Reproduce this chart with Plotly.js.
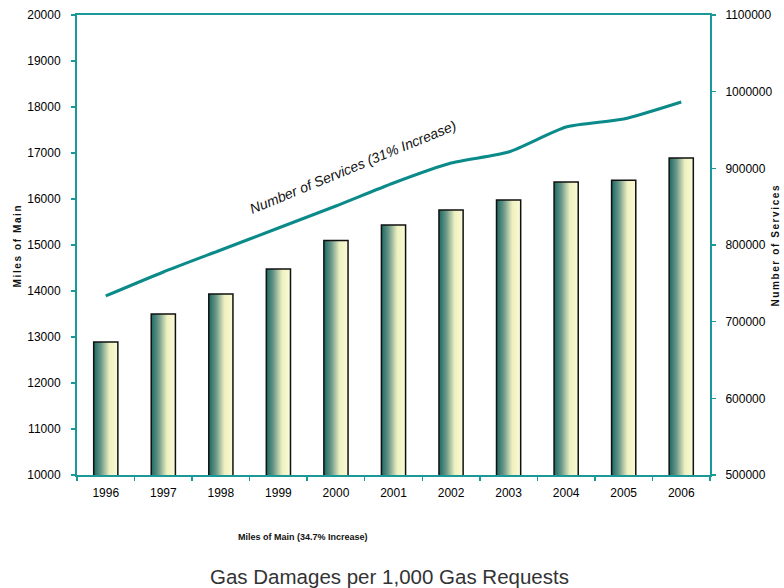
<!DOCTYPE html>
<html>
<head>
<meta charset="utf-8">
<script src="https://cdn.plot.ly/plotly-3.0.1.min.js"></script>
<style>
html,body{margin:0;padding:0;background:#fff;}
#chart{width:784px;height:588px;}
</style>
</head>
<body>
<div id="chart"></div>
<script>
const years = ["1996","1997","1998","1999","2000","2001","2002","2003","2004","2005","2006"];
const milesOfMain = [12890, 13500, 13935, 14480, 15100, 15435, 15760, 15980, 16370, 16410, 16890];
const numberOfServices = [733500, 764800, 793500, 822200, 850900, 880900, 906900, 921300, 953900, 964300, 986500];
const leftTicks = [10000,11000,12000,13000,14000,15000,16000,17000,18000,19000,20000];
const rightTicks = [500000,600000,700000,800000,900000,1000000,1100000];

const teal = "#1b9898";
const tickFont = {family: "Liberation Sans, Arial, sans-serif", size: 12, color: "#000"};

const traces = [
  {
    type: "bar",
    x: years,
    y: milesOfMain,
    width: 0.42,
    marker: {color: "#9fbfa8", line: {color: "#111", width: 1.5}},
    hoverinfo: "skip"
  },
  {
    type: "scatter",
    mode: "lines",
    x: years,
    y: numberOfServices,
    yaxis: "y2",
    line: {color: "#0b8a8a", width: 3, shape: "spline", smoothing: 0.6},
    hoverinfo: "skip"
  }
];

const layout = {
  width: 784,
  height: 588,
  margin: {l: 77, r: 74, t: 15, b: 113},
  paper_bgcolor: "#fff",
  plot_bgcolor: "#fff",
  showlegend: false,
  xaxis: {
    type: "category",
    range: [-0.5, 10.5],
    showline: true, linecolor: teal, linewidth: 2, mirror: true,
    ticks: "outside", tickson: "boundaries", ticklen: 4, tickcolor: teal, tickwidth: 1.5,
    showgrid: false, zeroline: false,
    tickfont: tickFont,
    ticklabelstandoff: 6
  },
  yaxis: {
    range: [10000, 20000],
    tickvals: leftTicks,
    tickformat: "d",
    showline: true, linecolor: teal, linewidth: 2,
    ticks: "outside", ticklen: 4, tickcolor: teal, tickwidth: 1.5,
    showgrid: false, zeroline: false,
    tickfont: tickFont,
    ticklabelstandoff: 8
  },
  yaxis2: {
    overlaying: "y",
    side: "right",
    range: [500000, 1100000],
    tickvals: rightTicks,
    tickformat: "d",
    showline: true, linecolor: teal, linewidth: 2,
    ticks: "outside", ticklen: 4, tickcolor: teal, tickwidth: 1.5,
    showgrid: false, zeroline: false,
    tickfont: tickFont,
    ticklabelstandoff: 7
  },
  annotations: [
    {
      text: "Number of Services (31% Increase)",
      xref: "paper", yref: "paper", x: 0.436, y: 0.6696,
      xanchor: "center", yanchor: "middle",
      showarrow: false, textangle: -22.5,
      font: {family: "Liberation Sans, Arial, sans-serif", size: 14, style: "italic", color: "#111"}
    },
    {
      text: "Miles of Main",
      xref: "paper", yref: "paper", x: -0.0948, y: 0.5,
      xanchor: "center", yanchor: "middle",
      showarrow: false, textangle: -90,
      font: {family: "Liberation Sans, Arial, sans-serif", size: 10, weight: "bold", color: "#111"}
    },
    {
      text: "Number of Services",
      xref: "paper", yref: "paper", x: 1.103, y: 0.5,
      xanchor: "center", yanchor: "middle",
      showarrow: false, textangle: -90,
      font: {family: "Liberation Sans, Arial, sans-serif", size: 10, weight: "bold", color: "#111"}
    },
    {
      text: "Miles of Main (34.7% Increase)",
      xref: "paper", yref: "paper", x: 0.357, y: -0.1348,
      xanchor: "center", yanchor: "middle",
      showarrow: false,
      font: {family: "Liberation Sans Narrow, Liberation Sans, Arial, sans-serif", size: 9, weight: "bold", color: "#111"}
    },
    {
      text: "Gas Damages per 1,000 Gas Requests",
      xref: "paper", yref: "paper", x: 0.493, y: -0.2217,
      xanchor: "center", yanchor: "middle",
      showarrow: false,
      font: {family: "Liberation Sans, Arial, sans-serif", size: 20.5, color: "#333"}
    }
  ]
};

Plotly.newPlot("chart", traces, layout, {staticPlot: true, displayModeBar: false}).then(function (gd) {
  const svg = gd.querySelector("svg.main-svg");
  const ns = "http://www.w3.org/2000/svg";
  let defs = svg.querySelector("defs");
  if (!defs) { defs = document.createElementNS(ns, "defs"); svg.insertBefore(defs, svg.firstChild); }
  const grad = document.createElementNS(ns, "linearGradient");
  grad.setAttribute("id", "barGrad");
  grad.setAttribute("x1", "0"); grad.setAttribute("y1", "0");
  grad.setAttribute("x2", "1"); grad.setAttribute("y2", "0");
  [["0", "#1a6863"], ["0.3", "#6a9788"], ["0.65", "#eef0c0"], ["1", "#fbfbd6"]].forEach(function (s) {
    const st = document.createElementNS(ns, "stop");
    st.setAttribute("offset", s[0]);
    st.setAttribute("stop-color", s[1]);
    grad.appendChild(st);
  });
  defs.appendChild(grad);
  gd.querySelectorAll(".bars .point path").forEach(function (p) {
    p.style.fill = "url(#barGrad)";
  });
  gd.querySelectorAll(".annotation-text").forEach(function (t) {
    const txt = t.textContent;
    if (txt === "Miles of Main" || txt === "Number of Services") t.style.letterSpacing = "1.6px";
  });
});
</script>
</body>
</html>
